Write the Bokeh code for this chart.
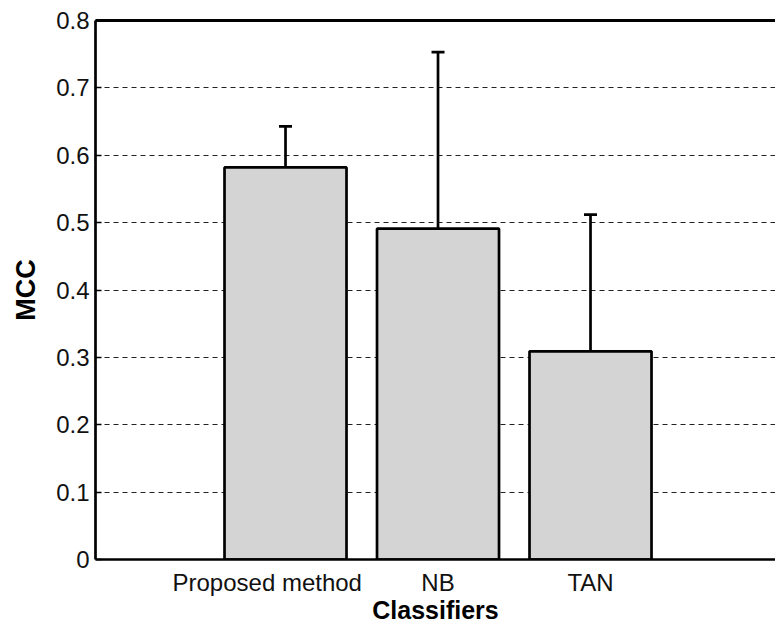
from bokeh.plotting import figure
from bokeh.models import (ColumnDataSource, Range1d, FixedTicker, LinearAxis,
                          Whisker, TeeHead)
from bokeh.embed import file_html
from bokeh.resources import INLINE

# data
classifiers = ["Proposed method", "NB", "TAN"]
mcc = [0.582, 0.491, 0.309]
mcc_err = [0.061, 0.262, 0.203]
bar_x = [1, 2, 3]
label_x = [0.88, 2.0, 3.0]
y_ticks = [0, 0.1, 0.2, 0.3, 0.4, 0.5, 0.6, 0.7, 0.8]
y_tick_labels = ["0", "0.1", "0.2", "0.3", "0.4", "0.5", "0.6", "0.7", "0.8"]

upper = [m + e for m, e in zip(mcc, mcc_err)]
src = ColumnDataSource(dict(x=bar_x, top=mcc, upper=upper, name=classifiers))

FONT = "Liberation Sans"

p = figure(width=775, height=633, output_backend="svg", toolbar_location=None,
           x_range=Range1d(-0.246, 4.213), y_range=Range1d(0, 0.8),
           min_border_left=95, min_border_right=0, min_border_top=20,
           min_border_bottom=74)
p.outline_line_color = None
p.background_fill_color = "white"
p.border_fill_color = "white"

# grid
p.xgrid.grid_line_color = None
p.ygrid.grid_line_color = "#222222"
p.ygrid.grid_line_dash = "5 4"
p.ygrid.grid_line_width = 1.2

p.vbar(x="x", top="top", width=0.8, bottom=0, source=src,
       fill_color="#d4d4d4", line_color="black", line_width=2.7)

wh = Whisker(source=src, base="x", lower="top", upper="upper",
             dimension="height", line_color="black", line_width=2.7,
             lower_head=None,
             upper_head=TeeHead(size=13, line_color="black", line_width=2.7))
p.add_layout(wh)

# y axis
ya = p.yaxis[0]
ya.ticker = FixedTicker(ticks=y_ticks)
ya.major_label_overrides = {t: l for t, l in zip(y_ticks, y_tick_labels)}
ya.major_tick_in = 6
ya.major_tick_out = 0
ya.minor_tick_line_color = None
ya.axis_line_width = 2.7
ya.major_tick_line_width = 1.5
ya.major_label_text_font = FONT
ya.major_label_text_font_size = "24px"
ya.major_label_text_color = "#111111"
ya.major_label_standoff = 6
ya.axis_label = "MCC"
ya.axis_label_text_font = FONT
ya.axis_label_text_font_style = "bold"
ya.axis_label_text_font_size = "27px"
ya.axis_label_text_color = "black"
ya.axis_label_standoff = 12

# x axis
xa = p.xaxis[0]
xa.ticker = FixedTicker(ticks=label_x)
xa.major_label_overrides = {t: l for t, l in zip(label_x, classifiers)}
xa.major_tick_line_color = None
xa.minor_tick_line_color = None
xa.axis_line_width = 2.7
xa.major_label_text_font = FONT
xa.major_label_text_font_size = "24px"
xa.major_label_text_color = "#111111"
xa.major_label_standoff = 3
xa.axis_label = "Classifiers"
xa.axis_label_text_font = FONT
xa.axis_label_text_font_style = "bold"
xa.axis_label_text_font_size = "25px"
xa.axis_label_text_color = "black"
xa.axis_label_standoff = -3

# top border
top_ax = LinearAxis(major_tick_line_color=None, minor_tick_line_color=None,
                    major_label_text_font_size="0px", axis_line_width=3,
                    ticker=FixedTicker(ticks=[]))
p.add_layout(top_ax, "above")

open("out.html", "w").write(file_html(p, INLINE))
